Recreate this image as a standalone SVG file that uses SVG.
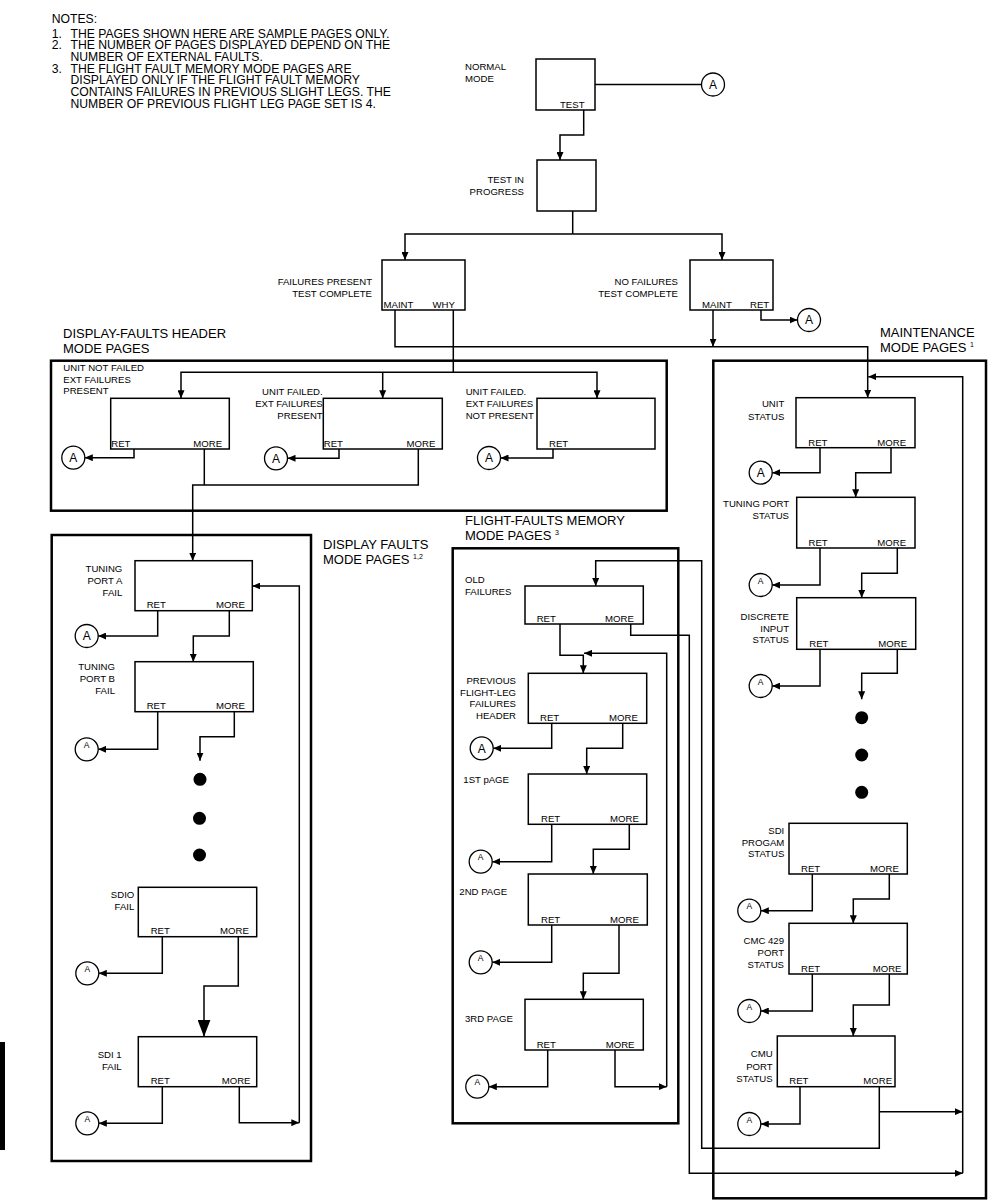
<svg xmlns="http://www.w3.org/2000/svg" width="993" height="1200" viewBox="0 0 993 1200">
<defs>
<style>
text{font-family:"Liberation Sans",Arial,sans-serif;fill:#000}
.n{font-size:12.2px}
.t{font-size:13px}
.l{font-size:9.6px}
.e{text-anchor:end}
.box{fill:#fff;stroke:#000;stroke-width:1.5}
.sec{fill:none;stroke:#000;stroke-width:2.5}
.c{fill:none;stroke:#000;stroke-width:1.5}
.ar{marker-end:url(#ar)}
.arL{marker-end:url(#arL)}
.ci{fill:#fff;stroke:#000;stroke-width:1.3}
.A{font-size:12px;text-anchor:middle}
.a{font-size:8.5px;text-anchor:middle}
.dot{fill:#000}
.sup{font-size:7px}
</style>
<marker id="ar" markerUnits="userSpaceOnUse" markerWidth="8" markerHeight="7" refX="8" refY="3.5" orient="auto"><path d="M0,0L8,3.5L0,7z" fill="#000"/></marker>
<marker id="arL" markerUnits="userSpaceOnUse" markerWidth="17" markerHeight="13" refX="17" refY="6.5" orient="auto"><path d="M0,0L17,6.5L0,13z" fill="#000"/></marker>
</defs>
<rect width="993" height="1200" fill="#fff"/>

<g id="notes">
<text class="n"><tspan x="51.7" y="22.7">NOTES:</tspan><tspan x="51.7" y="37.7">1.</tspan><tspan x="70.5" y="37.7">THE PAGES SHOWN HERE ARE SAMPLE PAGES ONLY.</tspan><tspan x="51.7" y="49.3">2.</tspan><tspan x="70.5" y="49.3">THE NUMBER OF PAGES DISPLAYED DEPEND ON THE</tspan><tspan x="70.5" y="61">NUMBER OF EXTERNAL FAULTS.</tspan><tspan x="51.7" y="72.7">3.</tspan><tspan x="70.5" y="72.7">THE FLIGHT FAULT MEMORY MODE PAGES ARE</tspan><tspan x="70.5" y="84.3">DISPLAYED ONLY IF THE FLIGHT FAULT MEMORY</tspan><tspan x="70.5" y="96">CONTAINS FAILURES IN PREVIOUS SLIGHT LEGS.  THE</tspan><tspan x="70.5" y="107.7">NUMBER OF PREVIOUS FLIGHT LEG PAGE SET IS 4.</tspan></text>
</g>

<rect x="0" y="1042" width="5" height="108" fill="#000"/>

<g id="sections">
<g id="sec-header"><rect class="sec" x="51" y="360.7" width="615.7" height="150"/>
<text class="t" x="63" y="337.5">DISPLAY-FAULTS HEADER</text><text class="t" x="63" y="352.5">MODE PAGES</text></g>
<g id="sec-display"><rect class="sec" x="51.7" y="535" width="259.3" height="626"/>
<text class="t" x="323" y="549">DISPLAY FAULTS</text><text class="t" x="323" y="564">MODE PAGES <tspan class="sup" dy="-5">1,2</tspan></text></g>
<g id="sec-flight"><rect class="sec" x="452.7" y="548.3" width="225.6" height="575"/>
<text class="t" x="465" y="525">FLIGHT-FAULTS MEMORY</text><text class="t" x="465" y="540">MODE PAGES <tspan class="sup" dy="-5">3</tspan></text></g>
<g id="sec-maint"><rect class="sec" x="713.3" y="360.7" width="272.7" height="837.6"/>
<text class="t" x="880" y="337">MAINTENANCE</text><text class="t" x="880" y="352">MODE PAGES <tspan class="sup" dy="-5">1</tspan></text></g>
</g>

<g id="connectors" class="c">
<path d="M595,84.5H701.5"/>
<path class="ar" d="M583.7,110V135H560V160"/>
<path d="M572.7,211V234"/>
<path class="ar" d="M572.7,234H405V260"/>
<path class="ar" d="M572.7,234H722V260"/>
<path class="ar" d="M395,310V346.7H867.7V397.7"/>
<path class="ar" d="M713,310V346.7"/>
<path class="ar" d="M761,310V320H797.5"/>
<path class="ar" d="M453.3,310V372.3H181V398.3"/>
<path class="ar" d="M453.3,372.3H597V398.3"/>
<path class="ar" d="M382.7,372.3V398.3"/>
<path class="ar" d="M134,449V457.7H84.8"/>
<path class="ar" d="M339,449V458.3H287.5"/>
<path class="ar" d="M553,449V458H500.5"/>
<path d="M204.3,449V485"/>
<path class="ar" d="M418.3,449V485H192.7V560.7"/>
<path class="ar" d="M157.7,610.7V636H98.2"/>
<path class="ar" d="M229.3,610.7V636H193.3V661.7"/>
<path class="ar" d="M157.7,711.7V749.3H98.2"/>
<path class="ar" d="M234.3,711.7V736.7H200V760.7"/>
<path class="ar" d="M162.3,936.7V973.3H98.8"/>
<path class="arL" d="M238.3,936.7V986H204V1036.7"/>
<path class="ar" d="M162.3,1086.7V1123.3H98.8"/>
<path class="ar" d="M239.3,1086.7V1122.7H299.3"/>
<path class="ar" d="M299.3,1122.7V586H252.3"/>
<path class="ar" d="M879.3,1086.7V1148.3H701.7V560.7H595.7V586"/>
<path class="ar" d="M560,624V655.3H583.3V673.3"/>
<path class="ar" d="M630.7,624V635.3H689.3V1173.3H962.7"/>
<path class="ar" d="M615,1050V1086.7H666.7"/>
<path class="ar" d="M666.7,1086.7V653.3H584"/>
<path class="ar" d="M551.7,723.3V748.3H493.2"/>
<path class="ar" d="M622.7,723.3V748.3H586.7V774"/>
<path class="ar" d="M551.7,824.3V861.7H492.2"/>
<path class="ar" d="M629.3,824.3V849.3H593.3V874"/>
<path class="ar" d="M551.7,925V962.3H492.2"/>
<path class="ar" d="M619,925V973.3H583.3V999.3"/>
<path class="ar" d="M547.7,1050V1086.7H488.8"/>
<path class="ar" d="M962.7,1173.3V376.7H868.3"/>
<path class="ar" d="M820,447.7V472.7H772.2"/>
<path class="ar" d="M891,447.7V472.7H855.7V497.3"/>
<path class="ar" d="M820,548V585H772.2"/>
<path class="ar" d="M897.3,548V573.3H861.7V597.7"/>
<path class="ar" d="M820,649.3V686H772.2"/>
<path class="ar" d="M897.3,649.3V673.3H861.7V699.3"/>
<path class="ar" d="M812.3,874V910.7H760.8"/>
<path class="ar" d="M889.3,874V899H853.3V923.3"/>
<path class="ar" d="M812.3,974V1011H760.8"/>
<path class="ar" d="M889.3,974V1005H853.3V1036"/>
<path class="ar" d="M800,1086.7V1124H760.8"/>
<path class="ar" d="M879.3,1111.7H962.7"/>
</g>

<g id="dots" class="dot">
<circle cx="200" cy="779.3" r="6.5"/><circle cx="199.5" cy="818.3" r="6.5"/><circle cx="199.5" cy="855" r="6.5"/>
<circle cx="861.7" cy="717.7" r="6.5"/><circle cx="861.7" cy="755" r="6.5"/><circle cx="861.7" cy="792.3" r="6.5"/>
</g>

<g id="node-normal"><rect class="box" x="536" y="59" width="59" height="51"/>
<text class="l" x="465" y="70">NORMAL</text><text class="l" x="465" y="82.3">MODE</text><text class="l" x="560" y="107.5">TEST</text></g>
<g id="node-testprog"><rect class="box" x="537" y="160" width="59" height="51"/>
<text class="l e" x="524" y="182.5">TEST IN</text><text class="l e" x="524" y="194.5">PROGRESS</text></g>
<g id="node-failpres"><rect class="box" x="382" y="260" width="83" height="50"/>
<text class="l e" x="372" y="284.5">FAILURES PRESENT</text><text class="l e" x="372" y="296.5">TEST COMPLETE</text>
<text class="l" x="383.5" y="307.5">MAINT</text><text class="l" x="432.5" y="307.5">WHY</text></g>
<g id="node-nofail"><rect class="box" x="690" y="260" width="83" height="50"/>
<text class="l e" x="678" y="284.5">NO FAILURES</text><text class="l e" x="678" y="296.5">TEST COMPLETE</text>
<text class="l" x="702" y="307.5">MAINT</text><text class="l" x="750" y="307.5">RET</text></g>

<g id="node-h1"><rect class="box" x="110.7" y="398.3" width="118.6" height="50.7"/>
<text class="l" x="63.3" y="370.5">UNIT NOT FAILED</text><text class="l" x="63.3" y="382.5">EXT FAILURES</text><text class="l" x="63.3" y="394">PRESENT</text>
<text class="l" x="111.3" y="446.5">RET</text><text class="l" x="193.3" y="446.5">MORE</text></g>
<g id="node-h2"><rect class="box" x="323.3" y="398.3" width="119" height="50.7"/>
<text class="l e" x="322.7" y="395">UNIT FAILED.</text><text class="l e" x="322.7" y="407">EXT FAILURES</text><text class="l e" x="322.7" y="419">PRESENT</text>
<text class="l" x="323.8" y="446.5">RET</text><text class="l" x="406.5" y="446.5">MORE</text></g>
<g id="node-h3"><rect class="box" x="537" y="398.3" width="118" height="50.7"/>
<text class="l" x="465.7" y="395">UNIT FAILED.</text><text class="l" x="465.7" y="407">EXT FAILURES</text><text class="l" x="465.7" y="419">NOT PRESENT</text>
<text class="l" x="549" y="446.5">RET</text></g>

<g id="node-tpa"><rect class="box" x="135" y="560.7" width="117.3" height="50"/>
<text class="l e" x="122.3" y="571.7">TUNING</text><text class="l e" x="122.3" y="584">PORT A</text><text class="l e" x="122.3" y="596">FAIL</text>
<text class="l" x="146.7" y="608">RET</text><text class="l" x="216" y="608">MORE</text></g>
<g id="node-tpb"><rect class="box" x="135" y="661.7" width="118.3" height="50"/>
<text class="l e" x="115" y="670">TUNING</text><text class="l e" x="115" y="682.3">PORT B</text><text class="l e" x="115" y="694">FAIL</text>
<text class="l" x="146.7" y="709">RET</text><text class="l" x="216" y="709">MORE</text></g>
<g id="node-sdio"><rect class="box" x="138.3" y="887.3" width="118.4" height="49.4"/>
<text class="l e" x="134.3" y="897.7">SDIO</text><text class="l e" x="134.3" y="910">FAIL</text>
<text class="l" x="150.7" y="934">RET</text><text class="l" x="220" y="934">MORE</text></g>
<g id="node-sdi1"><rect class="box" x="138.3" y="1036.7" width="118.4" height="50"/>
<text class="l e" x="121.7" y="1058.3">SDI 1</text><text class="l e" x="121.7" y="1070">FAIL</text>
<text class="l" x="150.7" y="1084">RET</text><text class="l" x="221.7" y="1084">MORE</text></g>

<g id="node-old"><rect class="box" x="525" y="586" width="118.3" height="38"/>
<text class="l" x="465" y="583.3">OLD</text><text class="l" x="465" y="595">FAILURES</text>
<text class="l" x="536.7" y="621.5">RET</text><text class="l" x="605" y="621.5">MORE</text></g>
<g id="node-prevhdr"><rect class="box" x="528.3" y="673.3" width="118.4" height="50"/>
<text class="l e" x="516" y="684">PREVIOUS</text><text class="l e" x="516" y="695.7">FLIGHT-LEG</text><text class="l e" x="516" y="707.3">FAILURES</text><text class="l e" x="516" y="719">HEADER</text>
<text class="l" x="540" y="721">RET</text><text class="l" x="609" y="721">MORE</text></g>
<g id="node-p1"><rect class="box" x="528.3" y="774" width="118.4" height="50.3"/>
<text class="l" x="463.3" y="783.3">1ST pAGE</text>
<text class="l" x="541" y="822">RET</text><text class="l" x="610" y="822">MORE</text></g>
<g id="node-p2"><rect class="box" x="528.3" y="874" width="119" height="51"/>
<text class="l" x="459.3" y="895">2ND PAGE</text>
<text class="l" x="541" y="922.5">RET</text><text class="l" x="610" y="922.5">MORE</text></g>
<g id="node-p3"><rect class="box" x="525" y="999.3" width="118.3" height="50.7"/>
<text class="l" x="465" y="1021.7">3RD PAGE</text>
<text class="l" x="536.7" y="1047.5">RET</text><text class="l" x="605.7" y="1047.5">MORE</text></g>

<g id="node-unit"><rect class="box" x="796" y="397.7" width="119" height="50"/>
<text class="l e" x="784.3" y="407.3">UNIT</text><text class="l e" x="784.3" y="420">STATUS</text>
<text class="l" x="808.3" y="445.5">RET</text><text class="l" x="877.3" y="445.5">MORE</text></g>
<g id="node-tps"><rect class="box" x="796.7" y="497.3" width="118.3" height="50.7"/>
<text class="l e" x="789" y="506.7">TUNING PORT</text><text class="l e" x="789" y="519">STATUS</text>
<text class="l" x="808.5" y="545.7">RET</text><text class="l" x="877.3" y="545.7">MORE</text></g>
<g id="node-disc"><rect class="box" x="796.7" y="597.7" width="119" height="51.6"/>
<text class="l e" x="789" y="620">DISCRETE</text><text class="l e" x="789" y="631.7">INPUT</text><text class="l e" x="789" y="643.3">STATUS</text>
<text class="l" x="809.3" y="646.8">RET</text><text class="l" x="878.3" y="646.8">MORE</text></g>
<g id="node-sdip"><rect class="box" x="789" y="823.3" width="118.3" height="50.7"/>
<text class="l e" x="784.3" y="834">SDI</text><text class="l e" x="784.3" y="846">PROGAM</text><text class="l e" x="784.3" y="857.3">STATUS</text>
<text class="l" x="801" y="871.5">RET</text><text class="l" x="870" y="871.5">MORE</text></g>
<g id="node-cmc"><rect class="box" x="789" y="923.3" width="118.3" height="50.7"/>
<text class="l e" x="784" y="944">CMC 429</text><text class="l e" x="784" y="956">PORT</text><text class="l e" x="784" y="967.7">STATUS</text>
<text class="l" x="801" y="971.5">RET</text><text class="l" x="872.7" y="971.5">MORE</text></g>
<g id="node-cmu"><rect class="box" x="777.3" y="1036" width="117.7" height="50.7"/>
<text class="l e" x="772.7" y="1056.7">CMU</text><text class="l e" x="772.7" y="1070">PORT</text><text class="l e" x="772.7" y="1082.3">STATUS</text>
<text class="l" x="789.3" y="1084.2">RET</text><text class="l" x="863.3" y="1084.2">MORE</text></g>

<g id="circles-A">
<g id="a-normal"><circle class="ci" cx="713" cy="84.5" r="11.5"/><text class="A" x="713" y="88.8">A</text></g>
<g id="a-nofail"><circle class="ci" cx="809" cy="320" r="11.5"/><text class="A" x="809" y="324.3">A</text></g>
<g id="a-h1"><circle class="ci" cx="73.3" cy="457.7" r="11.5"/><text class="A" x="73.3" y="462">A</text></g>
<g id="a-h2"><circle class="ci" cx="276" cy="458.3" r="11.5"/><text class="A" x="276" y="462.6">A</text></g>
<g id="a-h3"><circle class="ci" cx="489" cy="458" r="11.5"/><text class="A" x="489" y="462.3">A</text></g>
<g id="a-tpa"><circle class="ci" cx="86.7" cy="636" r="11.5"/><text class="A" x="86.7" y="640.3">A</text></g>
<g id="a-tpb"><circle class="ci" cx="86.7" cy="749.3" r="11.5"/><text class="a" x="86.7" y="747.8">A</text></g>
<g id="a-sdio"><circle class="ci" cx="87.3" cy="973.3" r="11.5"/><text class="a" x="87.3" y="971.8">A</text></g>
<g id="a-sdi1"><circle class="ci" cx="87.3" cy="1123.3" r="11.5"/><text class="a" x="87.3" y="1121.8">A</text></g>
<g id="a-unit"><circle class="ci" cx="760.7" cy="472.7" r="11.5"/><text class="A" x="760.7" y="477">A</text></g>
<g id="a-tps"><circle class="ci" cx="760.7" cy="585" r="11.5"/><text class="a" x="760.7" y="583.5">A</text></g>
<g id="a-disc"><circle class="ci" cx="760.7" cy="686" r="11.5"/><text class="a" x="760.7" y="684.5">A</text></g>
<g id="a-sdip"><circle class="ci" cx="749.3" cy="910.7" r="11.5"/><text class="a" x="749.3" y="909.2">A</text></g>
<g id="a-cmc"><circle class="ci" cx="749.3" cy="1011" r="11.5"/><text class="a" x="749.3" y="1009.5">A</text></g>
<g id="a-cmu"><circle class="ci" cx="749.3" cy="1124" r="11.5"/><text class="a" x="749.3" y="1122.5">A</text></g>
<g id="a-prev"><circle class="ci" cx="481.7" cy="748.3" r="11.5"/><text class="A" x="481.7" y="752.6">A</text></g>
<g id="a-p1"><circle class="ci" cx="480.7" cy="861.7" r="11.5"/><text class="a" x="480.7" y="860.2">A</text></g>
<g id="a-p2"><circle class="ci" cx="480.7" cy="962.3" r="11.5"/><text class="a" x="480.7" y="960.8">A</text></g>
<g id="a-p3"><circle class="ci" cx="477.3" cy="1086.7" r="11.5"/><text class="a" x="477.3" y="1085.2">A</text></g>
</g>
</svg>
